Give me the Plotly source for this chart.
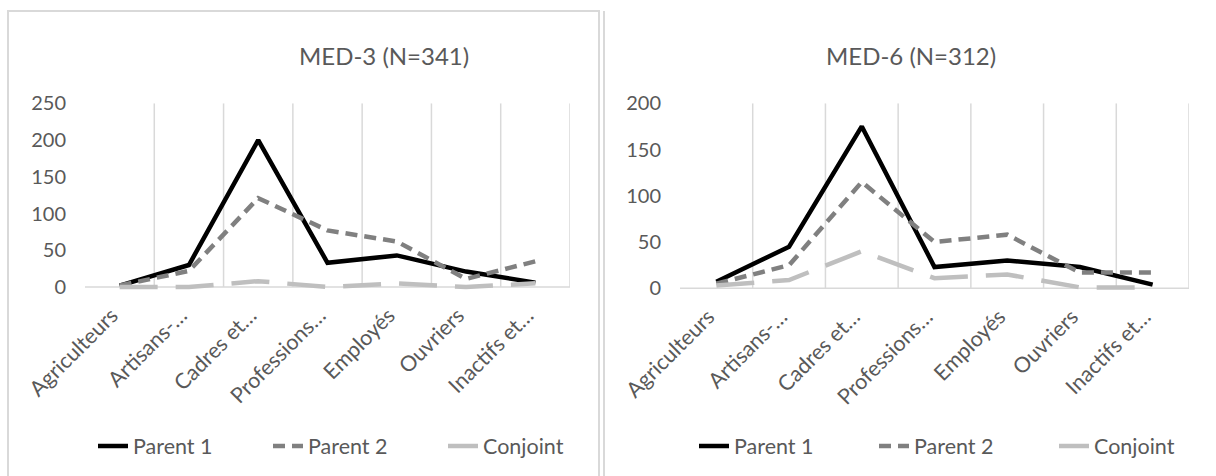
import plotly.graph_objects as go

categories = ["Agriculteurs", "Artisans-…", "Cadres et…", "Professions…", "Employés", "Ouvriers", "Inactifs et…"]

med3_parent1 = [2, 30, 200, 33, 43, 21, 6]
med3_parent2 = [2, 22, 121, 77, 62, 11, 35]
med3_conjoint = [0, 0, 8, 0, 5, 0, 5]

med6_parent1 = [7, 45, 175, 23, 30, 23, 4]
med6_parent2 = [5, 25, 115, 50, 58, 17, 17]
med6_conjoint = [3, 9, 40, 11, 15, 1, 1]

titles = ["MED-3 (N=341)", "MED-6 (N=312)"]
series_names = ["Parent 1", "Parent 2", "Conjoint"]
y_ticks_left = [0, 50, 100, 150, 200, 250]
y_ticks_right = [0, 50, 100, 150, 200]

W, H = 1216, 476
FONT = "Lato"
TXT = "#595959"
GRID = "#d9d9d9"

styles = [
    dict(color="#000000", width=4.5, dash="solid"),
    dict(color="#808080", width=4.5, dash="12px,7px"),
    dict(color="#bfbfbf", width=4.5, dash="38px,18px"),
]

fig = go.Figure()

panels = [
    dict(data=[med3_parent1, med3_parent2, med3_conjoint], xa="x", ya="y", legend="legend",
         ymax=250, ymin=-5, ticks=y_ticks_left),
    dict(data=[med6_parent1, med6_parent2, med6_conjoint], xa="x2", ya="y2", legend="legend2",
         ymax=200, ymin=-4, ticks=y_ticks_right),
]

for p in panels:
    for name, vals, st in zip(series_names, p["data"], styles):
        fig.add_trace(go.Scatter(
            x=categories, y=vals, mode="lines", name=name,
            line=dict(color=st["color"], width=st["width"], dash=st["dash"]),
            xaxis=p["xa"], yaxis=p["ya"], legend=p["legend"],
        ))

shapes = []
for p in panels:
    xr = p["xa"]
    yr = p["ya"]
    for i in range(len(categories)):
        shapes.append(dict(type="line", xref=xr, yref=yr, x0=i + 0.5, x1=i + 0.5,
                           y0=0, y1=p["ymax"], line=dict(color=GRID, width=1.5), layer="below"))
    shapes.append(dict(type="line", xref=xr, yref=yr, x0=-0.5, x1=len(categories) - 0.5,
                       y0=0, y1=0, line=dict(color=GRID, width=1.5), layer="below"))

# chart frames
shapes.append(dict(type="rect", xref="paper", yref="paper", x0=8 / W, x1=599 / W,
                   y0=-0.2, y1=1 - 11 / H, line=dict(color=GRID, width=2), layer="below"))
shapes.append(dict(type="line", xref="paper", yref="paper", x0=604 / W, x1=604 / W,
                   y0=-0.2, y1=1 - 11 / H, line=dict(color=GRID, width=2), layer="below"))

axis_common_x = dict(type="category", showgrid=False, showline=False, zeroline=False,
                     tickangle=-45, tickfont=dict(family=FONT, size=21.5, color=TXT),
                     ticks="", ticklabelstandoff=7, ticklabelshift=-8,
                     fixedrange=True, automargin=False)
axis_common_y = dict(showgrid=False, showline=False, zeroline=False,
                     tickfont=dict(family=FONT, size=20, color=TXT),
                     ticks="", ticklabelstandoff=18, fixedrange=True, automargin=False)

legend_common = dict(orientation="h", xanchor="left", yanchor="middle", y=1 - 446 / H,
                     font=dict(family=FONT, size=21.5, color=TXT), bgcolor="rgba(0,0,0,0)",
                     entrywidthmode="pixels")

fig.update_layout(
    width=W, height=H,
    margin=dict(l=0, r=0, t=0, b=0, autoexpand=False),
    paper_bgcolor="white", plot_bgcolor="white",
    font=dict(family=FONT, color=TXT),
    xaxis=dict(axis_common_x, domain=[85 / W, 570 / W], anchor="y", range=[-0.5, 6.5]),
    yaxis=dict(axis_common_y, domain=[1 - 290.7 / H, 1 - 103.3 / H], anchor="x",
               range=[-5, 250], tickvals=y_ticks_left),
    xaxis2=dict(axis_common_x, domain=[680 / W, 1189 / W], anchor="y2", range=[-0.5, 6.5]),
    yaxis2=dict(axis_common_y, domain=[1 - 292.0 / H, 1 - 103.3 / H], anchor="x2",
                range=[-4, 200], tickvals=y_ticks_right),
    legend=dict(legend_common, x=93 / W, entrywidth=130),
    legend2=dict(legend_common, x=694 / W, entrywidth=135),
    shapes=shapes,
    annotations=[
        dict(text=titles[0], xref="paper", yref="paper", x=384 / W, y=1 - 55 / H,
             xanchor="center", yanchor="middle", showarrow=False,
             font=dict(family=FONT, size=24, color=TXT)),
        dict(text=titles[1], xref="paper", yref="paper", x=911 / W, y=1 - 55 / H,
             xanchor="center", yanchor="middle", showarrow=False,
             font=dict(family=FONT, size=24, color=TXT)),
    ],
    showlegend=True,
)

fig.write_html("out.html")
